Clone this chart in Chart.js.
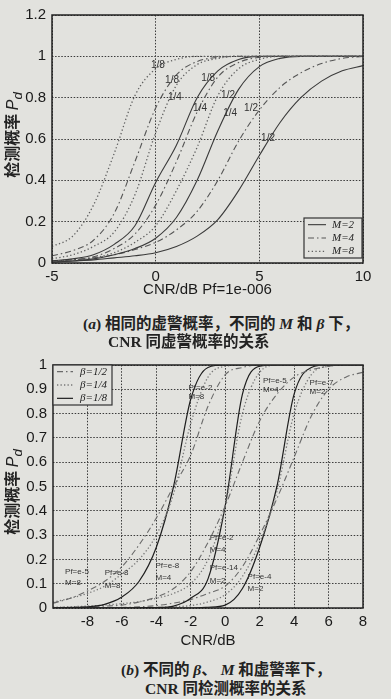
<!DOCTYPE html>
<html>
<head>
<meta charset="utf-8">
<script src="https://cdn.jsdelivr.net/npm/chart.js@4.4.0/dist/chart.umd.min.js"></script>
<style>
  html, body { margin: 0; padding: 0; background: #e2e2de; }
  body { width: 391px; height: 699px; position: relative; overflow: hidden; font-family: "Liberation Sans", Arial, sans-serif; }
  .box { position: absolute; left: 0; width: 391px; height: 300px; }
  #boxA { top: 0; }
  #boxB { top: 350px; }
  .ytitle { position: absolute; transform: translate(-50%, -50%) rotate(-90deg); white-space: nowrap;
            font: bold 16px "Noto Sans CJK SC", sans-serif; color: #222; }
  .ytitle i { font-family: "Liberation Sans", sans-serif; font-weight: normal; font-size: 16px; }
  .cap { position: absolute; white-space: nowrap; transform: translateY(-50%);
         font: bold 15.5px "Liberation Serif", "Noto Sans CJK SC", serif; color: #222; }
  .cap i { font-style: italic; }
</style>
</head>
<body>
<div id="boxA" class="box"><canvas id="chartA" width="391" height="300"></canvas></div>
<div id="boxB" class="box"><canvas id="chartB" width="391" height="300"></canvas></div>

<div class="ytitle" style="left:12px; top:135px;">检测概率 <i>P<sub>d</sub></i></div>
<div class="ytitle" style="left:12px; top:492px;">检测概率 <i>P<sub>d</sub></i></div>

<div class="cap" style="left:83px; top:322px;">(<i>a</i>) 相同的虚警概率，不同的 <i>M</i> 和 <i>β</i> 下，</div>
<div class="cap" style="left:108px; top:340px;">CNR 同虚警概率的关系</div>
<div class="cap" style="left:121px; top:668px;">(<i>b</i>) 不同的 <i>β</i>、 <i>M</i> 和虚警率下，</div>
<div class="cap" style="left:145px; top:687px;">CNR 同检测概率的关系</div>

<script>
// ---------- (a) Pf = 1e-6, curves for M and beta ----------
const cnrA = [-5, -4, -3, -2, -1, 0, 1, 2, 3, 4, 5, 6, 7, 8, 9, 10];
const xTicksA = [-5, 0, 5, 10];
const yTicksA = [0, 0.2, 0.4, 0.6, 0.8, 1, 1.2];

const pdA_M8_b8 = [0.08, 0.13, 0.28, 0.53, 0.81, 0.94, 0.985, 1, 1, 1, 1, 1, 1, 1, 1, 1];
const pdA_M4_b8 = [0.035, 0.06, 0.11, 0.24, 0.49, 0.75, 0.91, 0.975, 0.995, 1, 1, 1, 1, 1, 1, 1];
const pdA_M8_b4 = [0.02, 0.04, 0.08, 0.15, 0.33, 0.63, 0.86, 0.96, 0.99, 1, 1, 1, 1, 1, 1, 1];
const pdA_M2_b8 = [0.01, 0.02, 0.04, 0.09, 0.18, 0.39, 0.57, 0.8, 0.93, 0.985, 1, 1, 1, 1, 1, 1];
const pdA_M4_b4 = [0.01, 0.015, 0.03, 0.07, 0.14, 0.28, 0.49, 0.73, 0.9, 0.97, 0.995, 1, 1, 1, 1, 1];
const pdA_M8_b2 = [0.01, 0.015, 0.025, 0.05, 0.1, 0.18, 0.35, 0.56, 0.81, 0.94, 0.985, 1, 1, 1, 1, 1];
const pdA_M2_b4 = [0.005, 0.01, 0.02, 0.04, 0.07, 0.12, 0.22, 0.4, 0.64, 0.84, 0.95, 0.99, 1, 1, 1, 1];
const pdA_M4_b2 = [0.01, 0.015, 0.025, 0.04, 0.065, 0.1, 0.16, 0.25, 0.4, 0.59, 0.74, 0.85, 0.92, 0.965, 0.99, 1];
const pdA_M2_b2 = [0.005, 0.01, 0.015, 0.025, 0.035, 0.05, 0.08, 0.13, 0.21, 0.35, 0.52, 0.68, 0.8, 0.88, 0.93, 0.955];

const legendA = ['M=2', 'M=4', 'M=8'];
const curveTextA = [
  { x: 0.11, y: 0.955, t: '1/8' }, { x: 0.79, y: 0.885, t: '1/8' }, { x: 0.93, y: 0.80, t: '1/4' },
  { x: 2.53, y: 0.895, t: '1/8' }, { x: 2.14, y: 0.75, t: '1/4' }, { x: 3.49, y: 0.81, t: '1/2' },
  { x: 3.59, y: 0.725, t: '1/4' }, { x: 4.6, y: 0.75, t: '1/2' }, { x: 5.42, y: 0.605, t: '1/2' }
];

// ---------- (b) different beta, M and Pf ----------
const cnrB = [-10, -9, -8, -7, -6, -5, -4, -3, -2, -1, 0, 1, 2, 3, 4, 5, 6, 7, 8];
const xTicksB = [-8, -6, -4, -2, 0, 2, 4, 6, 8];
const yTicksB = [0, 0.1, 0.2, 0.3, 0.4, 0.5, 0.6, 0.7, 0.8, 0.9, 1];

const pdB_A_b8 = [0, 0.002, 0.005, 0.015, 0.045, 0.11, 0.25, 0.5, 0.86, 0.99, 1, 1, 1, 1, 1, 1, 1, 1, 1];
const pdB_A_b4 = [0.024, 0.04, 0.06, 0.09, 0.14, 0.2, 0.3, 0.47, 0.76, 0.95, 0.995, 1, 1, 1, 1, 1, 1, 1, 1];
const pdB_A_b2 = [0.02, 0.04, 0.07, 0.11, 0.17, 0.26, 0.37, 0.5, 0.63, 0.83, 0.96, 0.99, 1, 1, 1, 1, 1, 1, 1];
const pdB_B_b8 = [0, 0, 0, 0, 0, 0.001, 0.002, 0.008, 0.04, 0.12, 0.42, 0.88, 0.995, 1, 1, 1, 1, 1, 1];
const pdB_B_b4 = [0.003, 0.005, 0.008, 0.012, 0.018, 0.026, 0.04, 0.06, 0.1, 0.2, 0.42, 0.8, 0.97, 1, 1, 1, 1, 1, 1];
const pdB_B_b2 = [0.002, 0.003, 0.005, 0.008, 0.012, 0.025, 0.045, 0.08, 0.15, 0.27, 0.42, 0.6, 0.77, 0.88, 0.95, 0.98, 0.995, 1, 1];
const pdB_C_b8 = [0, 0, 0, 0, 0, 0, 0, 0, 0, 0.003, 0.012, 0.08, 0.25, 0.5, 0.88, 0.99, 1, 1, 1];
const pdB_C_b4 = [0, 0, 0, 0, 0, 0.001, 0.002, 0.005, 0.01, 0.025, 0.055, 0.13, 0.27, 0.48, 0.8, 0.96, 0.995, 1, 1];
const pdB_C_b2 = [0, 0, 0, 0, 0.002, 0.005, 0.01, 0.02, 0.035, 0.06, 0.09, 0.17, 0.3, 0.45, 0.62, 0.79, 0.9, 0.95, 0.97];

const legendB = ['β=1/2', 'β=1/4', 'β=1/8'];
const curveTextB = [
  { x: -2.13, y: 0.905, t: 'Pf=e-2' }, { x: -2.13, y: 0.87, t: 'M=8' },
  { x: 2.19, y: 0.935, t: 'Pf=e-5' }, { x: 2.19, y: 0.90, t: 'M=4' },
  { x: 4.9, y: 0.925, t: 'Pf=e-7' }, { x: 4.9, y: 0.89, t: 'M=2' },
  { x: -9.3, y: 0.15, t: 'Pf=e-5' }, { x: -9.3, y: 0.105, t: 'M=8' },
  { x: -7.0, y: 0.145, t: 'Pf=e-8' }, { x: -7.0, y: 0.09, t: 'M=8' },
  { x: -4.05, y: 0.175, t: 'Pf=e-8' }, { x: -4.05, y: 0.125, t: 'M=4' },
  { x: -0.9, y: 0.29, t: 'Pf=e-2' }, { x: -0.9, y: 0.24, t: 'M=4' },
  { x: -0.9, y: 0.165, t: 'Pf=e-14' }, { x: -0.9, y: 0.11, t: 'M=2' },
  { x: 1.3, y: 0.13, t: 'Pf=e-4' }, { x: 1.3, y: 0.08, t: 'M=2' }
];

// line styles
const SOLID = { dash: [], color: '#3a3a3a', width: 1.1 };
const DASHDOT = { dash: [6, 3, 1.5, 3], color: '#555', width: 1.1 };
const DOTTED = { dash: [1.3, 2.4], color: '#606060', width: 1.3 };
const SOLID_B = { dash: [], color: '#1e1e1e', width: 1.2 };
const DOTTED_B = { dash: [1.3, 2.2], color: '#777', width: 1.3 };
const DASHDOT_B = { dash: [6, 3, 1.5, 3], color: '#6a6a6a', width: 1.1 };

function makeSet(xs, ys, style, label) {
    return {
        label: label,
        data: xs.map((x, i) => ({ x: x, y: ys[i] })),
        borderColor: style.color,
        borderWidth: style.width,
        borderDash: style.dash,
        pointRadius: 0,
        fill: false,
        cubicInterpolationMode: 'monotone'
    };
}

// frame around the plot area
const framePlugin = {
    id: 'frame',
    afterDraw(chart) {
        const { ctx, chartArea: a } = chart;
        ctx.save();
        ctx.strokeStyle = '#222';
        ctx.lineWidth = 1.5;
        ctx.strokeRect(a.left, a.top, a.right - a.left, a.bottom - a.top);
        ctx.restore();
    }
};

// text beside the curves, placed in data units
const curveTextPlugin = {
    id: 'curveText',
    afterDatasetsDraw(chart, args, opts) {
        const { ctx, scales } = chart;
        ctx.save();
        ctx.font = opts.font;
        ctx.fillStyle = '#333';
        ctx.textAlign = opts.align;
        ctx.textBaseline = 'middle';
        opts.items.forEach(it => {
            ctx.fillText(it.t, scales.x.getPixelForValue(it.x), scales.y.getPixelForValue(it.y));
        });
        ctx.restore();
    }
};

// boxed legend inside the plot
const boxLegendPlugin = {
    id: 'boxLegend',
    afterDraw(chart, args, opts) {
        const { ctx, chartArea: a } = chart;
        const x0 = opts.corner === 'br' ? a.right - opts.w - 1 : a.left;
        const y0 = opts.corner === 'br' ? a.bottom - opts.h - 5 : a.top;
        ctx.save();
        ctx.fillStyle = '#e2e2de';
        ctx.fillRect(x0, y0, opts.w, opts.h);
        ctx.strokeStyle = '#333';
        ctx.lineWidth = 1.2;
        ctx.strokeRect(x0, y0, opts.w, opts.h);
        const rowH = opts.h / opts.labels.length;
        opts.labels.forEach((lab, i) => {
            const st = opts.styles[i];
            const y = y0 + rowH * (i + 0.5);
            ctx.beginPath();
            ctx.setLineDash(st.dash);
            ctx.strokeStyle = st.color;
            ctx.lineWidth = st.width;
            ctx.moveTo(x0 + 4, y);
            ctx.lineTo(x0 + opts.lineLen, y);
            ctx.stroke();
            ctx.setLineDash([]);
            ctx.fillStyle = '#222';
            ctx.font = 'italic 11px "Liberation Serif", serif';
            ctx.textAlign = 'left';
            ctx.textBaseline = 'middle';
            ctx.fillText(lab, x0 + opts.textX, y);
        });
        ctx.restore();
    }
};

function axisOpts(ticksList, min, max, isX, title, fitSize) {
    return {
        type: 'linear',
        min: min,
        max: max,
        afterBuildTicks: scale => { scale.ticks = ticksList.map(v => ({ value: v })); },
        afterFit: scale => { if (isX) scale.height = fitSize; else scale.width = fitSize; },
        grid: { display: true, drawOnChartArea: true, color: '#3a3a3a', lineWidth: 1, drawTicks: false },
        border: { display: false, dash: [1.5, 1.6] },
        ticks: {
            color: '#1a1a1a',
            font: { family: '"Liberation Sans", Arial, sans-serif', size: 15 },
            padding: isX ? 5 : 6,
            maxRotation: 0,
            autoSkip: false,
            callback: v => String(Math.round(v * 10) / 10)
        },
        title: title ? {
            display: true, text: title, color: '#1a1a1a',
            font: { family: '"Liberation Sans", Arial, sans-serif', size: 15 },
            padding: { top: 0, bottom: 0 }
        } : { display: false }
    };
}

document.addEventListener('DOMContentLoaded', () => {
    new Chart(document.getElementById('chartA').getContext('2d'), {
        type: 'line',
        data: {
            datasets: [
                makeSet(cnrA, pdA_M8_b8, DOTTED, 'M=8 β=1/8'),
                makeSet(cnrA, pdA_M4_b8, DASHDOT, 'M=4 β=1/8'),
                makeSet(cnrA, pdA_M8_b4, DOTTED, 'M=8 β=1/4'),
                makeSet(cnrA, pdA_M2_b8, SOLID, 'M=2 β=1/8'),
                makeSet(cnrA, pdA_M4_b4, DASHDOT, 'M=4 β=1/4'),
                makeSet(cnrA, pdA_M8_b2, DOTTED, 'M=8 β=1/2'),
                makeSet(cnrA, pdA_M2_b4, SOLID, 'M=2 β=1/4'),
                makeSet(cnrA, pdA_M4_b2, DASHDOT, 'M=4 β=1/2'),
                makeSet(cnrA, pdA_M2_b2, SOLID, 'M=2 β=1/2')
            ]
        },
        options: {
            responsive: false,
            animation: false,
            layout: { padding: { left: 0, right: 28, top: 15, bottom: 1 } },
            scales: {
                x: axisOpts(xTicksA, -5, 10, true, 'CNR/dB Pf=1e-006', 36),
                y: axisOpts(yTicksA, 0, 1.2, false, null, 52)
            },
            plugins: {
                legend: { display: false },
                tooltip: { enabled: false },
                curveText: { items: curveTextA, font: '10px "Liberation Sans", sans-serif', align: 'center' },
                boxLegend: { labels: legendA, styles: [SOLID, DASHDOT, DOTTED], corner: 'br', w: 58, h: 40, lineLen: 22, textX: 28 }
            }
        },
        plugins: [framePlugin, curveTextPlugin, boxLegendPlugin]
    });

    new Chart(document.getElementById('chartB').getContext('2d'), {
        type: 'line',
        data: {
            datasets: [
                makeSet(cnrB, pdB_A_b2, DASHDOT_B, 'A β=1/2'),
                makeSet(cnrB, pdB_A_b4, DOTTED_B, 'A β=1/4'),
                makeSet(cnrB, pdB_A_b8, SOLID_B, 'A β=1/8'),
                makeSet(cnrB, pdB_B_b2, DASHDOT_B, 'B β=1/2'),
                makeSet(cnrB, pdB_B_b4, DOTTED_B, 'B β=1/4'),
                makeSet(cnrB, pdB_B_b8, SOLID_B, 'B β=1/8'),
                makeSet(cnrB, pdB_C_b2, DASHDOT_B, 'C β=1/2'),
                makeSet(cnrB, pdB_C_b4, DOTTED_B, 'C β=1/4'),
                makeSet(cnrB, pdB_C_b8, SOLID_B, 'C β=1/8')
            ]
        },
        options: {
            responsive: false,
            animation: false,
            layout: { padding: { left: 0, right: 28, top: 13, bottom: 0 } },
            scales: {
                x: axisOpts(xTicksB, -10, 8, true, 'CNR/dB', 42),
                y: axisOpts(yTicksB, 0, 1, false, null, 53)
            },
            plugins: {
                legend: { display: false },
                tooltip: { enabled: false },
                curveText: { items: curveTextB, font: '8px "Liberation Sans", sans-serif', align: 'left' },
                boxLegend: { labels: legendB, styles: [DASHDOT_B, DOTTED_B, SOLID_B], corner: 'tl', w: 59, h: 40, lineLen: 20, textX: 27 }
            }
        },
        plugins: [framePlugin, curveTextPlugin, boxLegendPlugin]
    });
});
</script>
</body>
</html>
